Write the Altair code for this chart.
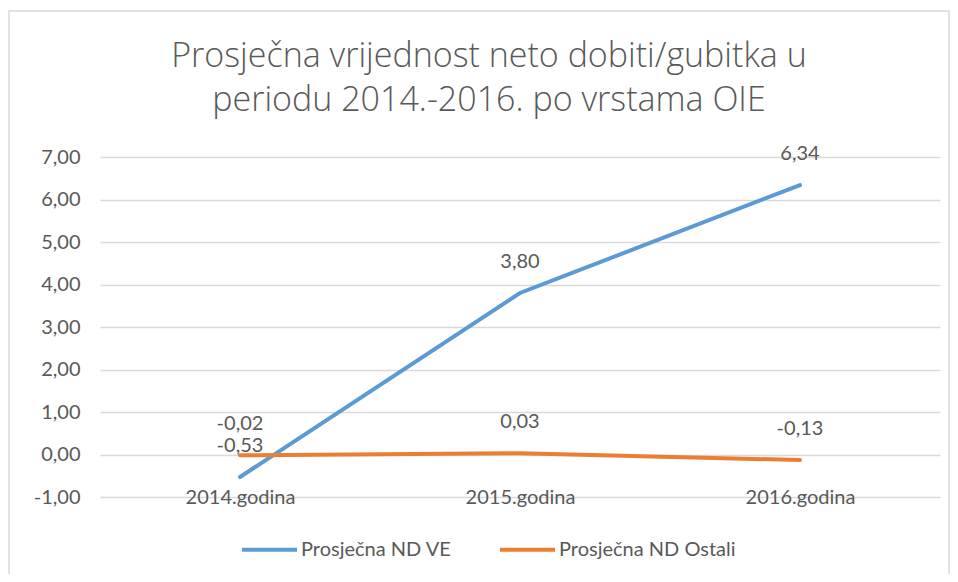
import altair as alt
import pandas as pd

categories = ["2014.godina", "2015.godina", "2016.godina"]
series_names = ["Prosječna ND VE", "Prosječna ND Ostali"]
ve_values = [-0.53, 3.80, 6.34]
ostali_values = [-0.02, 0.03, -0.13]
y_ticks = [-1, 0, 1, 2, 3, 4, 5, 6, 7]
title_lines = ["Prosječna vrijednost neto dobiti/gubitka u", "periodu 2014.-2016. po vrstama OIE"]

rows = []
for s, vals in zip(series_names, [ve_values, ostali_values]):
    for c, v in zip(categories, vals):
        rows.append({"godina": c, "serija": s, "vrijednost": v})
df = pd.DataFrame(rows)

FONT = "Lato"
TFONT = "Open Sans"
GRAY = "#595959"
FS = 20
NUMFMT = "replace(replace(format({v}, '.2f'), '.', ','), '\u2212', '-')"

x_enc = alt.X("godina:N", sort=categories,
              scale=alt.Scale(type="point", padding=0.5),
              axis=alt.Axis(title=None, labelAngle=0, ticks=False, domain=False,
                            labelBaseline="middle", labelPadding=0,
                            labelFontSize=FS, labelColor=GRAY, labelFont=FONT))
y_enc = alt.Y("vrijednost:Q", scale=alt.Scale(domain=[-1, 7], nice=False),
              axis=alt.Axis(title=None, values=y_ticks, ticks=False, domain=False,
                            labelExpr=NUMFMT.format(v="datum.value"),
                            labelPadding=20, labelFontSize=FS, labelColor=GRAY,
                            labelFont=FONT, gridColor="#d9d9d9", gridWidth=1.3))

lines = alt.Chart(df).mark_line(strokeWidth=4, strokeCap="round").encode(
    x=x_enc, y=y_enc,
    color=alt.Color("serija:N", sort=series_names,
                    scale=alt.Scale(domain=series_names, range=["#5B9BD5", "#ED7D31"]),
                    legend=alt.Legend(title=None, orient="none", direction="horizontal",
                                      legendX=140, legendY=363, symbolType="stroke",
                                      symbolSize=3025, symbolStrokeWidth=4,
                                      labelFontSize=FS, labelColor=GRAY, labelFont=FONT,
                                      labelOffset=2, columnPadding=40, labelLimit=400)),
    detail="serija:N",
)

labels = alt.Chart(df).transform_calculate(
    lbl=NUMFMT.format(v="datum.vrijednost")
).mark_text(dy=-31, baseline="middle", fontSize=FS, color=GRAY, font=FONT).encode(
    x=alt.X("godina:N", sort=categories), y="vrijednost:Q", text="lbl:N"
)

one = pd.DataFrame({"a": [0]})
frame = alt.Chart(one).mark_rect(
    fill="transparent", stroke="#d9d9d9", strokeWidth=1.5
).encode(x=alt.value(-91), x2=alt.value(849), y=alt.value(-146), y2=alt.value(419))

title1 = alt.Chart(one).mark_text(
    text=title_lines[0], fontSize=34, font=TFONT, fontWeight=300, color=GRAY,
    align="center", baseline="alphabetic"
).encode(x=alt.value(389), y=alt.value(-90))
title2 = alt.Chart(one).mark_text(
    text=title_lines[1], fontSize=34, font=TFONT, fontWeight=300, color=GRAY,
    align="center", baseline="alphabetic"
).encode(x=alt.value(389), y=alt.value(-46))

chart = alt.layer(frame, title1, title2, lines, labels).properties(
    width=840, height=340,
    autosize=alt.AutoSizeParams(type="none"),
    padding={"left": 92, "top": 149, "right": 10, "bottom": 77},
).configure_view(stroke=None)

chart.save("out.html", embed_options={"renderer": "svg", "actions": False})
